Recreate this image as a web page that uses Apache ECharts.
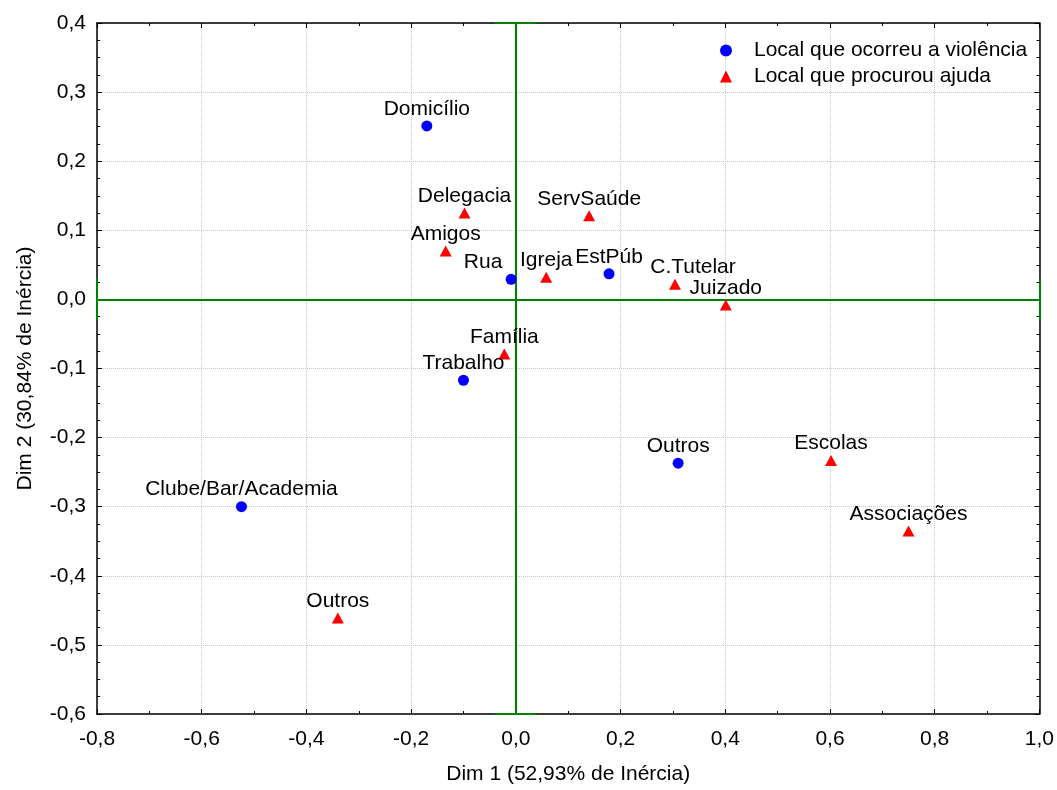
<!DOCTYPE html>
<html>
<head>
<meta charset="utf-8">
<script src="https://cdn.jsdelivr.net/npm/echarts@6/dist/echarts.min.js"></script>
<style>
  html, body { margin: 0; padding: 0; background: #fff; }
  #chart { width: 1057px; height: 790px; }
</style>
</head>
<body>
<div id="chart"></div>
<script>
// Local que ocorreu a violência
const violNames = ["Domicílio", "Rua", "EstPúb", "Trabalho", "Outros", "Clube/Bar/Academia"];
const violDim1 = [-0.170, -0.009, 0.178, -0.100, 0.310, -0.524];
const violDim2 = [0.251, 0.029, 0.037, -0.117, -0.237, -0.300];

// Local que procurou ajuda
const ajudaNames = ["Delegacia", "ServSaúde", "Amigos", "Igreja", "C.Tutelar", "Juizado", "Família", "Escolas", "Associações", "Outros"];
const ajudaDim1 = [-0.098, 0.140, -0.134, 0.058, 0.304, 0.401, -0.022, 0.602, 0.750, -0.340];
const ajudaDim2 = [0.125, 0.121, 0.070, 0.032, 0.022, -0.008, -0.079, -0.233, -0.335, -0.461];

// deslocamento horizontal de alguns rótulos (px)
const labelShift = { "Rua": -28, "C.Tutelar": 18 };

const FONT = "Liberation Sans, Arial, sans-serif";
const FS = 21;

function fmt(v) {
  if (Math.abs(v) < 1e-9) return "0,0";
  return v.toFixed(1).replace(".", ",");
}

function toData(names, xs, ys) {
  return names.map(function (n, i) {
    const item = { name: n, value: [xs[i], ys[i]] };
    if (labelShift[n] !== undefined) {
      item.label = { offset: [labelShift[n], 0] };
    }
    return item;
  });
}

const pointLabel = {
  show: true,
  position: "top",
  distance: 1,
  formatter: "{b}",
  color: "#000",
  fontSize: FS,
  lineHeight: FS,
  fontFamily: FONT,
};

const green = { color: "#008000", width: 2, type: "solid", opacity: 1 };

const myChart = echarts.init(document.getElementById("chart"));

function axisX(pos, withLabels) {
  return {
    type: "value",
    position: pos,
    min: -0.8,
    max: 1.0,
    interval: 0.2,
    name: withLabels ? "Dim 1 (52,93% de Inércia)" : "",
    nameLocation: "middle",
    nameGap: 50,
    nameTextStyle: { color: "#000", fontSize: FS, fontFamily: FONT },
    axisLine: { show: true, onZero: false, lineStyle: { color: "#000", width: 1.5 } },
    axisTick: { show: true, inside: true, length: 5, lineStyle: { color: "#000" } },
    minorTick: { show: true, splitNumber: 2, length: 3, lineStyle: { color: "#000" } },
    axisLabel: {
      show: withLabels,
      margin: 15,
      color: "#000",
      fontSize: FS,
      fontFamily: FONT,
      formatter: fmt,
    },
    splitLine: {
      show: withLabels,
      lineStyle: { color: "#c8c8c8", type: "dotted", width: 1 },
    },
  };
}

function axisY(pos, withLabels) {
  return {
    type: "value",
    position: pos,
    min: -0.6,
    max: 0.4,
    interval: 0.1,
    name: withLabels ? "Dim 2 (30,84% de Inércia)" : "",
    nameLocation: "middle",
    nameGap: 61,
    nameTextStyle: { color: "#000", fontSize: FS, fontFamily: FONT },
    axisLine: { show: true, onZero: false, lineStyle: { color: "#000", width: 1.5 } },
    axisTick: { show: true, inside: true, length: 5, lineStyle: { color: "#000" } },
    minorTick: { show: true, splitNumber: 4, length: 3, lineStyle: { color: "#000" } },
    axisLabel: {
      show: withLabels,
      margin: 11,
      color: "#000",
      fontSize: FS,
      fontFamily: FONT,
      formatter: fmt,
    },
    splitLine: {
      show: withLabels,
      lineStyle: { color: "#c8c8c8", type: "dotted", width: 1 },
    },
  };
}

const option = {
  backgroundColor: "#fff",
  animation: false,
  grid: { left: 97, right: 17, top: 23, bottom: 70 },
  legend: {
    orient: "vertical",
    left: 715,
    top: 35,
    itemWidth: 12,
    itemHeight: 12,
    itemGap: 5,
    textStyle: { color: "#000", fontSize: FS, fontFamily: FONT, padding: [0, 0, 0, 17] },
    data: ["Local que ocorreu a violência", "Local que procurou ajuda"],
  },
  xAxis: [axisX("bottom", true), axisX("top", false)],
  yAxis: [axisY("left", true), axisY("right", false)],
  series: [
    {
      name: "Local que ocorreu a violência",
      type: "scatter",
      symbol: "circle",
      symbolSize: 11,
      clip: false,
      itemStyle: { color: "#0000ff", opacity: 1 },
      label: pointLabel,
      data: toData(violNames, violDim1, violDim2),
      z: 3,
      markLine: {
        silent: true,
        symbol: "none",
        label: { show: false },
        lineStyle: green,
        z: 1,
        data: [
          { xAxis: 0 },
          { yAxis: 0 },
          [{ coord: [-0.04, 0.4] }, { coord: [0.04, 0.4] }],
          [{ coord: [-0.04, -0.6] }, { coord: [0.04, -0.6] }],
          [{ coord: [-0.8, -0.03] }, { coord: [-0.8, 0.03] }],
          [{ coord: [1.0, -0.03] }, { coord: [1.0, 0.03] }],
        ],
      },
    },
    {
      name: "Local que procurou ajuda",
      type: "scatter",
      symbol: "triangle",
      symbolSize: [12, 11],
      clip: false,
      itemStyle: { color: "#ff0000", opacity: 1 },
      label: pointLabel,
      data: toData(ajudaNames, ajudaDim1, ajudaDim2),
      z: 3,
    },
  ],
};

myChart.setOption(option);
</script>
</body>
</html>
